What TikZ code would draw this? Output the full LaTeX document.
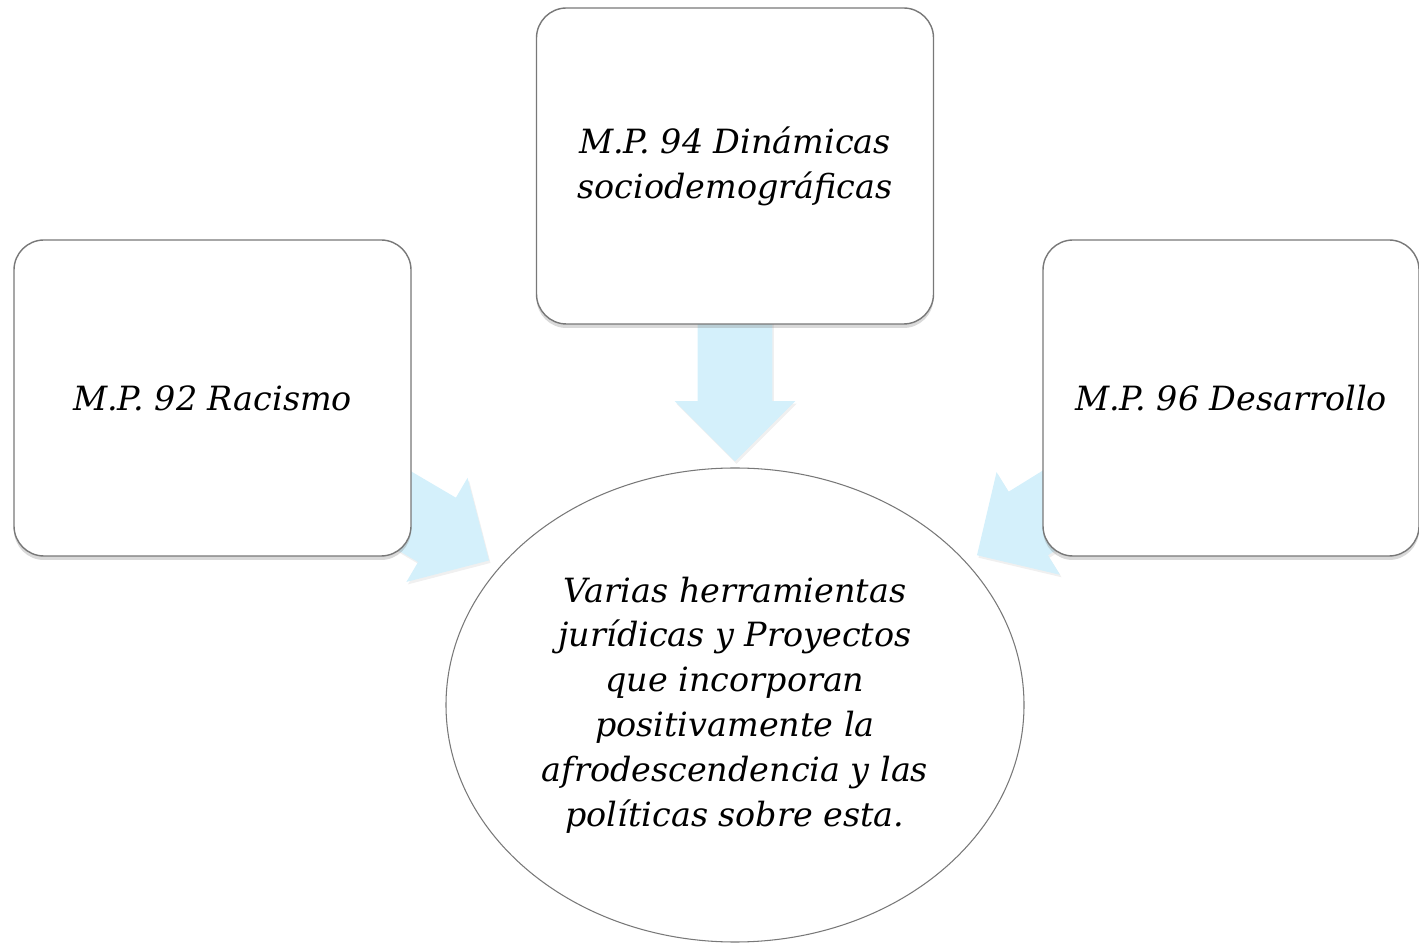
\documentclass[tikz,border=0pt]{standalone}
\usepackage{fontspec}
\setmainfont{DejaVu Serif}
\usetikzlibrary{shapes.geometric,shapes.arrows,shadows,backgrounds}
\definecolor{azulflecha}{RGB}{212,240,251}
\definecolor{grisborde}{RGB}{120,120,120}
\tikzset{
  texto/.style={font=\fontsize{19}{25.5}\selectfont\itshape},
  caja/.style={texto, draw=grisborde, line width=0.8pt, fill=white, rounded corners=0.6cm,
    minimum width=7.94cm, minimum height=6.32cm, align=center,
    drop shadow={opacity=0.3, shadow xshift=0pt, shadow yshift=-0.08cm}},
  meta/.style={texto, ellipse, draw=grisborde, line width=0.6pt, fill=white,
    minimum width=11.56cm, minimum height=9.48cm, align=center, inner sep=0pt},
  flecha/.style={single arrow, fill=azulflecha, minimum width=2.4cm, inner xsep=0pt, inner ysep=0.74cm,
    single arrow head extend=0.46cm, single arrow tip angle=90, sloped, allow upside down, anchor=tip,
    minimum height=3.2cm, drop shadow={opacity=0.12, shadow xshift=0.03cm, shadow yshift=-0.05cm}}
}

\begin{document}
\begin{tikzpicture}
    \useasboundingbox (0, 0) rectangle (28.38, 18.88);
    \node[caja] (racismo) at (4.25, 10.92) {M.P. 92 Racismo};
    \node[caja] (dinamicas) at (14.7, 15.56) {M.P. 94 Dinámicas\\sociodemográficas};
    \node[caja, minimum width=7.52cm] (desarrollo) at (24.62, 10.92) {M.P. 96 Desarrollo};
    \node[meta] (herramientas) at (14.7, 4.78) {Varias herramientas\\jurídicas y Proyectos\\que incorporan\\positivamente la\\afrodescendencia y las\\políticas sobre esta.};
    \begin{pgfonlayer}{background}
      \path (racismo.center) -- (herramientas.center) node[flecha, pos=0.530] (f92) {};
      \path (dinamicas.center) -- (herramientas.center) node[flecha, pos=0.549] (f94) {};
      \path (desarrollo.center) -- (herramientas.center) node[flecha, pos=0.513] (f96) {};
    \end{pgfonlayer}
\end{tikzpicture}
\end{document}
